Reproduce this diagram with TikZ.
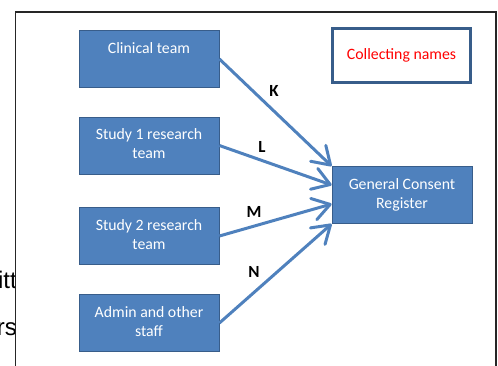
\documentclass[tikz,border=0pt]{standalone}
\usepackage{fontspec}
\setmainfont{Carlito}
\newfontfamily\pagefont{Liberation Sans}
\usetikzlibrary{arrows.meta}

\definecolor{officeblue}{HTML}{4F81BD}
\definecolor{edgeblue}{HTML}{385D8A}
\definecolor{framegray}{HTML}{262626}

\tikzset{
  teambox/.style={draw=edgeblue, line width=0.8pt, fill=officeblue, text=white,
    minimum width=140pt, minimum height=57pt, inner sep=0pt, align=center,
    font=\fontsize{15.8}{19}\selectfont},
  flow/.style={draw=officeblue, line width=3pt,
    -{Straight Barb[length=17pt,width=22pt,line join=round,line cap=round]}},
  flowlabel/.style={font=\bfseries\fontsize{17}{20}\selectfont, inner sep=0pt},
  pagetext/.style={font=\pagefont\fontsize{24}{28}\selectfont, inner sep=0pt, anchor=base east},
}

\begin{document}
\begin{tikzpicture}[x=1pt, y=-1pt]
  \useasboundingbox (0,0) rectangle (498,365);

  % text of the page behind the frame
  \begin{scope}
    \clip (0,0) rectangle (15.5,365);
    \node[pagetext] (pageA) at (17,288) {itt};
    \node[pagetext] (pageB) at (17,335) {rs};
  \end{scope}

  % frame
  \draw[framegray, line width=1.2pt] (15.5,366) -- (15.5,12) -- (496,12) -- (496,366);

  % teams
  \node[teambox] (clinical) at (149,59)    {\strut Clinical team\\\strut};
  \node[teambox] (study1)   at (149,145.5) {\strut Study 1 research\\\strut team};
  \node[teambox] (study2)   at (149,236)   {\strut Study 2 research\\\strut team};
  \node[teambox] (admin)    at (149,323)   {\strut Admin and other\\\strut staff};

  % register
  \node[teambox] (register) at (402,195) {\strut General Consent\\\strut Register};

  % note
  \node[draw=edgeblue, line width=3pt, minimum width=138pt, minimum height=54pt,
    text=red, font=\fontsize{15.8}{19}\selectfont] (note) at (401.5,55.5) {Collecting names};

  % flows
  \draw[flow] (clinical.east) -- (register.north west);
  \draw[flow] (study1.east) -- ([yshift=10pt]register.west);
  \draw[flow] (study2.east) -- ([yshift=-9pt]register.west);
  \draw[flow] (admin.east) -- (register.south west);

  \node[flowlabel] (labK) at (274,91)  {K};
  \node[flowlabel] (labL) at (262,147) {L};
  \node[flowlabel] (labM) at (254,212) {M};
  \node[flowlabel] (labN) at (254,272) {N};
\end{tikzpicture}
\end{document}
